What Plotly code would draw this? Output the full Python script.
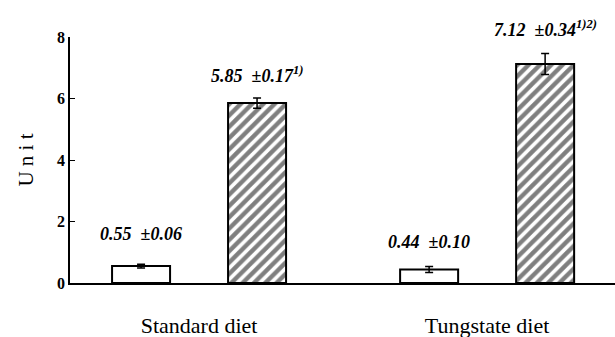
import plotly.graph_objects as go

categories = ["Standard diet", "Tungstate diet"]
control_vals = [0.55, 0.44]
control_err = [0.06, 0.10]
treat_vals = [5.85, 7.12]
treat_err = [0.17, 0.34]
control_labels = ["0.55  ±0.06", "0.44  ±0.10"]
treat_labels = ["5.85  ±0.17<sup>1)</sup>", "7.12  ±0.34<sup>1)2)</sup>"]
y_ticks = [0, 2, 4, 6, 8]

SERIF = "Times New Roman, Liberation Serif, serif"
BW = 0.2014
fig = go.Figure()
fig.add_trace(go.Bar(
    x=categories, y=control_vals, width=BW, offset=-0.302,
    marker=dict(color="white", line=dict(color="black", width=2)),
    error_y=dict(type="data", array=control_err, color="black", thickness=1.5, width=4),
    showlegend=False))
fig.add_trace(go.Bar(
    x=categories, y=treat_vals, width=BW, offset=0.1007,
    marker=dict(color="white", line=dict(color="black", width=2),
                pattern=dict(shape="/", fgcolor="black", bgcolor="white", size=8, solidity=0.55)),
    error_y=dict(type="data", array=treat_err, color="black", thickness=1.5, width=4),
    showlegend=False))

ann_font = dict(family=SERIF, size=18, color="black")
ctrl_shift = [18, 12]
treat_shift = [10, 12]
for i, c in enumerate(categories):
    fig.add_annotation(x=c, y=control_vals[i] + control_err[i],
                       text="<b><i>" + control_labels[i] + "</i></b>",
                       xref="x", yref="y", showarrow=False, yanchor="bottom",
                       xshift=-0.302 * 288 + BW * 144, yshift=ctrl_shift[i], font=ann_font)
    fig.add_annotation(x=c, y=treat_vals[i] + treat_err[i],
                       text="<b><i>" + treat_labels[i] + "</i></b>",
                       xref="x", yref="y", showarrow=False, yanchor="bottom",
                       xshift=0.1007 * 288 + BW * 144, yshift=treat_shift[i], font=ann_font)

fig.update_layout(
    width=615, height=337,
    margin=dict(l=70, r=0, t=37, b=54),
    paper_bgcolor="white", plot_bgcolor="white",
    barmode="overlay",
    xaxis=dict(range=[-0.448, 1.444], showline=True, linecolor="black", linewidth=1.5,
               ticks="", showgrid=False, zeroline=False, ticklabelstandoff=22,
               tickfont=dict(family=SERIF, size=22, color="black")),
    yaxis=dict(range=[0, 8], tickvals=y_ticks, ticktext=["<b>%d</b>" % v for v in y_ticks],
               showline=True, linecolor="black", linewidth=1.5,
               ticks="inside", ticklen=5, tickcolor="black", showgrid=False, zeroline=False,
               tickfont=dict(family=SERIF, size=16, color="black"),
               title=dict(text="U n i t", standoff=18,
                          font=dict(family=SERIF, size=21, color="black"))),
)
fig.write_html("out.html", config={"displayModeBar": False},
               post_script="document.body.style.margin='0px';")
